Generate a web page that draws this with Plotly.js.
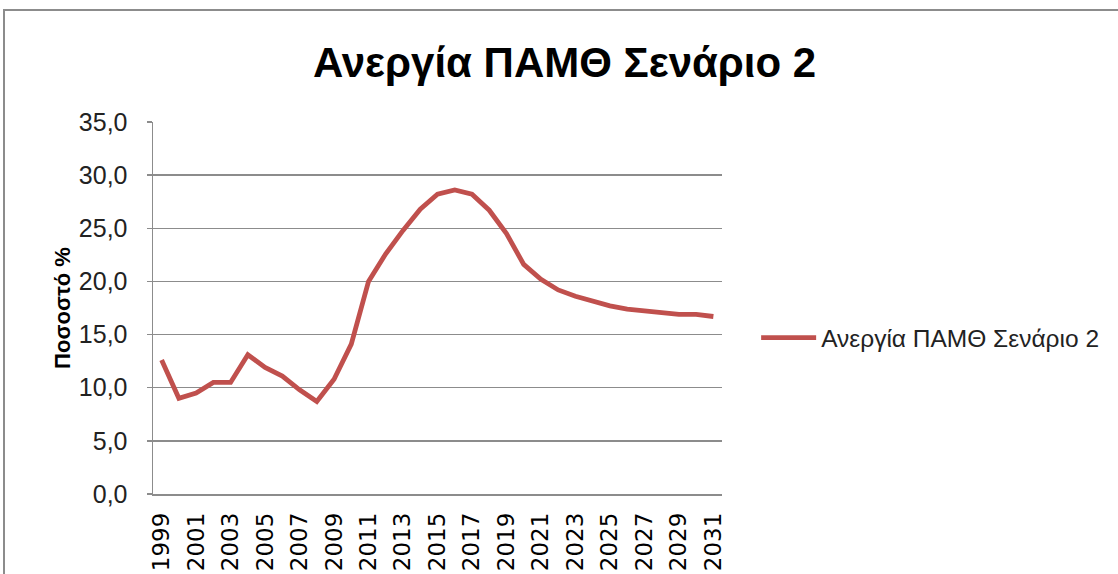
<!DOCTYPE html>
<html>
<head>
<meta charset="utf-8">
<script src="https://cdn.plot.ly/plotly-3.0.1.min.js"></script>
<style>
html,body{margin:0;padding:0;background:#fff;overflow:hidden;}
#wrap{position:relative;width:1118px;height:574px;}
#chart{position:absolute;left:0;top:0;width:1118px;height:574px;}
#frame{position:absolute;left:3px;top:9px;width:1200px;height:700px;border:2px solid #8c8c8c;pointer-events:none;}
</style>
</head>
<body>
<div id="wrap"><div id="chart"></div><div id="frame"></div></div>
<script>
const years = ["1999","2000","2001","2002","2003","2004","2005","2006","2007","2008","2009","2010",
  "2011","2012","2013","2014","2015","2016","2017","2018","2019","2020","2021","2022","2023",
  "2024","2025","2026","2027","2028","2029","2030","2031"];
const unemployment = [12.6, 9.0, 9.5, 10.5, 10.5, 13.1, 11.9, 11.1, 9.8, 8.7, 10.8, 14.1,
  20.0, 22.6, 24.8, 26.8, 28.2, 28.6, 28.2, 26.7, 24.5, 21.6, 20.2, 19.2, 18.6,
  18.1, 17.7, 17.4, 17.2, 17.1, 16.9, 16.9, 16.7];
const seriesName = "Ανεργία ΠΑΜΘ Σενάριο 2";
const chartTitle = "Ανεργία ΠΑΜΘ Σενάριο 2";
const yTitle = "Ποσοστό %";
const yTicks = [0,5,10,15,20,25,30,35];
const xTicks = years.filter((y,i)=>i%2===0);

const trace = {
  x: years, y: unemployment, type: 'scatter', mode: 'lines', name: seriesName,
  line: {color: '#C0504D', width: 4.8}
};
const layout = {
  width: 1118, height: 574,
  margin: {l:153, r:396, t:122, b:80},
  paper_bgcolor: '#ffffff', plot_bgcolor: '#ffffff',
  separators: ',.',
  showlegend: true,
  title: {text: chartTitle, x: 0.505, xanchor: 'center', y: 0.892, yanchor: 'middle',
    font: {family: 'Liberation Sans', size: 42, color: '#000', weight: 'bold'}},
  xaxis: {
    type: 'category', range: [-0.5, 32.5], tickvals: xTicks, ticktext: xTicks,
    tickangle: -90, showgrid: false, zeroline: false,
    showline: true, linecolor: '#8c8c8c', linewidth: 1.5,
    ticks: '', ticklabelstandoff: 8,
    tickfont: {family: 'DejaVu Sans', size: 23, color: '#000'}
  },
  yaxis: {
    range: [0, 35], tickvals: yTicks, tickformat: '.1f',
    showgrid: true, gridcolor: '#8c8c8c', gridwidth: 1.5,
    zeroline: false, showline: true, linecolor: '#8c8c8c', linewidth: 1.5,
    ticks: 'outside', ticklen: 5, tickcolor: '#8c8c8c', tickwidth: 1.5,
    ticklabelstandoff: 14,
    tickfont: {family: 'Liberation Sans', size: 25, color: '#222'},
    title: {text: yTitle, standoff: 2,
      font: {family: 'Liberation Sans', size: 22, color: '#000', weight: 'bold'}}
  },
  legend: {x: 1.06, xanchor: 'left', y: 0.42, yanchor: 'middle', bgcolor: 'rgba(0,0,0,0)',
    itemwidth: 55,
    font: {family: 'Liberation Sans', size: 24.5, color: '#222'}}
};
Plotly.newPlot('chart', [trace], layout, {displayModeBar: false, staticPlot: true});
</script>
</body>
</html>
